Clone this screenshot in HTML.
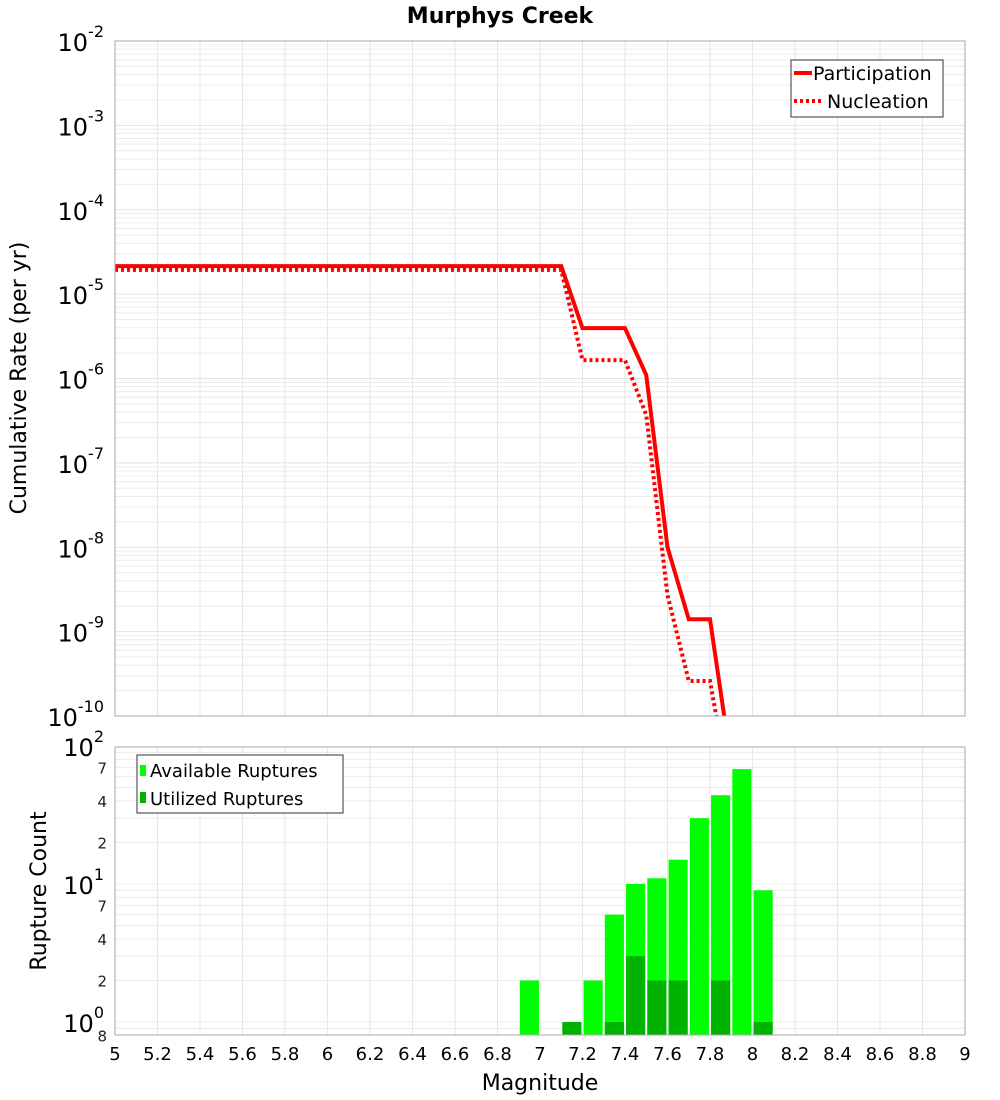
<!DOCTYPE html>
<html><head><meta charset="utf-8"><style>
body{margin:0;background:#fff;font-family:"DejaVu Sans","Liberation Sans",sans-serif}
svg{display:block}
</style></head><body>
<svg id="c" width="1000" height="1100" xmlns="http://www.w3.org/2000/svg"></svg>
<script>
const mags=[5,7.1,7.2,7.4,7.5,7.6,7.7,7.8,7.9];
const partRate=[2.15e-5,2.15e-5,3.95e-6,3.95e-6,1.1e-6,1e-8,1.4e-9,1.4e-9,2.7e-11];
const nuclRate=[1.94e-5,1.94e-5,1.65e-6,1.65e-6,3.7e-7,2.7e-9,2.6e-10,2.6e-10,1e-11];
const binMags=[6.95,7.15,7.25,7.35,7.45,7.55,7.65,7.75,7.85,7.95,8.05];
const available=[2,0,2,6,10,11,15,30,44,68,9];
const utilized=[0,1,0,1,3,2,2,0,2,0,1];
const xTicks=["5","5.2","5.4","5.6","5.8","6","6.2","6.4","6.6","6.8","7","7.2","7.4","7.6","7.8","8","8.2","8.4","8.6","8.8","9"];
const topDecades=[-2,-3,-4,-5,-6,-7,-8,-9,-10];
const botMinor=[[70,"7"],[40,"4"],[20,"2"],[7,"7"],[4,"4"],[2,"2"],[0.8,"8"]];

const svg=document.getElementById('c');
const NS="http://www.w3.org/2000/svg";
function mk(t,a,p){const e=document.createElementNS(NS,t);for(const k in a)e.setAttribute(k,a[k]);(p||svg).appendChild(e);return e;}
const X0=115,X1=965;
const x=m=>X0+(m-5)/4*(X1-X0);
const T0=41,T1=716;
const yT=v=>T0+(-2-Math.log10(v))/8*(T1-T0);
const B0=747,B1=1035;
const yB=v=>1022-Math.log10(v)*138;

// title
let t=mk('text',{x:500,y:23,'text-anchor':'middle','font-size':22,'font-weight':'bold'});t.textContent='Murphys Creek';


// top panel
let g=mk('g',{});
mk('rect',{x:X0,y:T0,width:X1-X0,height:T1-T0,fill:'#fff'},g);
for(let d=-10;d<-2;d++)for(let k=1;k<10;k++){const yy=yT(k*Math.pow(10,d));mk('line',{x1:X0,x2:X1,y1:yy,y2:yy,stroke:k==1?'#e2e2e2':'#ececec','stroke-width':1},g);}
for(let i=1;i<20;i++){mk('line',{x1:x(5+i*0.2),x2:x(5+i*0.2),y1:T0,y2:T1,stroke:'#e6e6e6'},g);}
let cp=mk('clipPath',{id:'ct'});mk('rect',{x:X0,y:T0,width:X1-X0,height:T1-T0},cp);
let pp=mk('polyline',{points:mags.map((m,i)=>x(m)+','+yT(partRate[i])).join(' '),fill:'none',stroke:'#f00','stroke-width':4,'clip-path':'url(#ct)'},g);

let np=mk('polyline',{points:mags.map((m,i)=>x(m)+','+yT(nuclRate[i])).join(' '),fill:'none',stroke:'#f00','stroke-width':4,'stroke-dasharray':'3,3','clip-path':'url(#ct)'},g);

mk('rect',{x:X0,y:T0,width:X1-X0,height:T1-T0,fill:'none',stroke:'#aaa'},g);
topDecades.forEach(d=>{const yy=yT(Math.pow(10,d));let tx=mk('text',{x:104,y:yy+10,'text-anchor':'end','font-size':24},g);tx.innerHTML='10<tspan dy="-14" font-size="16">'+d+'</tspan>';});
t=mk('text',{x:26,y:378,'text-anchor':'middle','font-size':22,transform:'rotate(-90 26 378)'});t.textContent='Cumulative Rate (per yr)';

// legend top
let lg=mk('g',{});
mk('rect',{x:791,y:60,width:152,height:57,fill:'#fff',stroke:'#333'},lg);
mk('line',{x1:794,x2:812,y1:73,y2:73,stroke:'#f00','stroke-width':4},lg);
mk('line',{x1:794,x2:823,y1:101,y2:101,stroke:'#f00','stroke-width':4,'stroke-dasharray':'3,3'},lg);
t=mk('text',{x:813,y:80,'font-size':19},lg);t.textContent='Participation';
t=mk('text',{x:827,y:108,'font-size':19},lg);t.textContent='Nucleation';

// bottom panel
let b=mk('g',{});
for(let d=-1;d<2;d++)for(let k=1;k<10;k++){const v=k*Math.pow(10,d);const yy=yB(v);if(yy>B1||yy<B0)continue;mk('line',{x1:X0,x2:X1,y1:yy,y2:yy,stroke:'#ececec'},b);}
for(let i=1;i<20;i++){mk('line',{x1:x(5+i*0.2),x2:x(5+i*0.2),y1:B0,y2:B1,stroke:'#e6e6e6'},b);}
binMags.forEach((m,i)=>{
 if(available[i]>0){let r=mk('rect',{x:x(m-0.045),y:yB(available[i]),width:x(0.09+5)-X0,height:B1-yB(available[i]),fill:'#00ff00'},b);}
 if(utilized[i]>0){let r=mk('rect',{x:x(m-0.045),y:yB(utilized[i]),width:x(0.09+5)-X0,height:B1-yB(utilized[i]),fill:'#00b300'},b);}
});
mk('rect',{x:X0,y:B0,width:X1-X0,height:B1-B0,fill:'none',stroke:'#aaa'},b);
[2,1,0].forEach(d=>{const yy=yB(Math.pow(10,d));let tx=mk('text',{x:104,y:yy+10,'text-anchor':'end','font-size':24},b);tx.innerHTML='10<tspan dy="-14" font-size="16">'+d+'</tspan>';});
botMinor.forEach(([v,l])=>{let tx=mk('text',{x:107,y:yB(v)+6,'text-anchor':'end','font-size':15,fill:'#222'},b);tx.textContent=l;});
t=mk('text',{x:46,y:891,'text-anchor':'middle','font-size':22,transform:'rotate(-90 46 891)'});t.textContent='Rupture Count';

let bl=mk('g',{});
mk('rect',{x:137,y:755,width:206,height:58,fill:'#fff',stroke:'#333'},bl);
mk('rect',{x:140,y:765,width:6,height:11,fill:'#00ff00'},bl);
mk('rect',{x:140,y:792,width:6,height:11,fill:'#00b300'},bl);
t=mk('text',{x:150,y:777,'font-size':18},bl);t.textContent='Available Ruptures';
t=mk('text',{x:150,y:805,'font-size':18},bl);t.textContent='Utilized Ruptures';
xTicks.forEach((l,i)=>{let tx=mk('text',{x:x(5+i*0.2),y:1060,'text-anchor':'middle','font-size':18});tx.textContent=l;});
t=mk('text',{x:540,y:1090,'text-anchor':'middle','font-size':22});t.textContent='Magnitude';

</script>
</body></html>
